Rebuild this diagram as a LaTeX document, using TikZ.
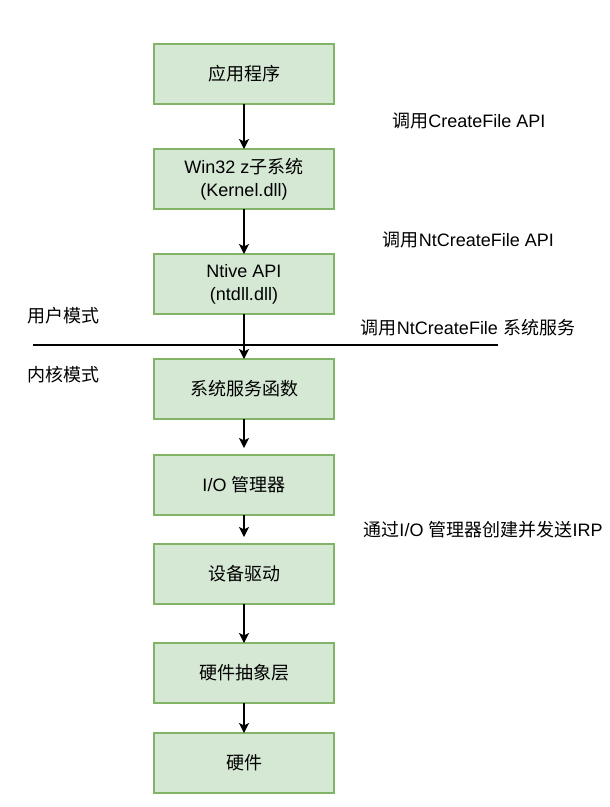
\documentclass[tikz,border=0pt]{standalone}
\usepackage{fontspec}
\setmainfont{Liberation Sans}
\newfontfamily\zhfont{Noto Sans CJK SC}
\newcommand{\zh}[1]{{\zhfont #1}}
\usetikzlibrary{arrows.meta,positioning}
\definecolor{boxfill}{RGB}{213,232,212}
\definecolor{boxline}{RGB}{130,179,102}

\begin{document}
\begin{tikzpicture}[x=1pt,y=1pt,
  layer/.style={draw=boxline,fill=boxfill,line width=1.5pt,minimum width=180pt,minimum height=60pt,outer sep=0pt,align=center,font=\fontsize{18}{23}\selectfont},
  flow/.style={-{Stealth[length=10pt,width=10pt,inset=2.5pt]},line width=1.5pt},
  note/.style={inner sep=0pt,font=\fontsize{18}{23}\selectfont}]
\useasboundingbox (0,0) rectangle (610,-807);
% the stack of layers
\node[layer] (app) at (244,-74) {\zh{应用程序}};
\node[layer,below=45pt of app] (win32) {Win32 z\zh{子系统}\\(Kernel.dll)};
\node[layer,below=45pt of win32] (ntapi) {Ntive API\\(ntdll.dll)};
\node[layer,below=45pt of ntapi] (sysfn) {\zh{系统服务函数}};
\node[layer,below=36pt of sysfn] (iomgr) {I/O \zh{管理器}};
\node[layer,below=29pt of iomgr] (drv) {\zh{设备驱动}};
\node[layer,below=39pt of drv] (hal) {\zh{硬件抽象层}};
\node[layer,below=30pt of hal] (hw) {\zh{硬件}};
\draw[flow] (app) -- (win32);
\draw[flow] (win32) -- (ntapi);
\draw[flow] (ntapi) -- (sysfn);
\draw[flow,shorten >=7pt] (sysfn) -- (iomgr);
\draw[flow,shorten >=7pt] (iomgr) -- (drv);
\draw[flow] (drv) -- (hal);
\draw[flow] (hal) -- (hw);
% user / kernel boundary
\coordinate (bl) at (33,-345);
\coordinate (br) at (498,-345);
\draw[line width=2.5pt] (bl) -- (br);
\node[note] (user) at (63.5,-316) {\zh{用户模式}};
\node[note] (kernel) at (63.5,-375) {\zh{内核模式}};
% call labels
\node[note] (callcf) at (469,-121) {\zh{调用}CreateFile API};
\node[note] (callnt) at (468.5,-240) {\zh{调用}NtCreateFile API};
\node[note] (callsys) at (468,-328) {\zh{调用}NtCreateFile \zh{系统服务}};
\node[note] (callirp) at (483,-530) {\zh{通过}I/O \zh{管理器创建并发送}IRP};
\end{tikzpicture}
\end{document}
